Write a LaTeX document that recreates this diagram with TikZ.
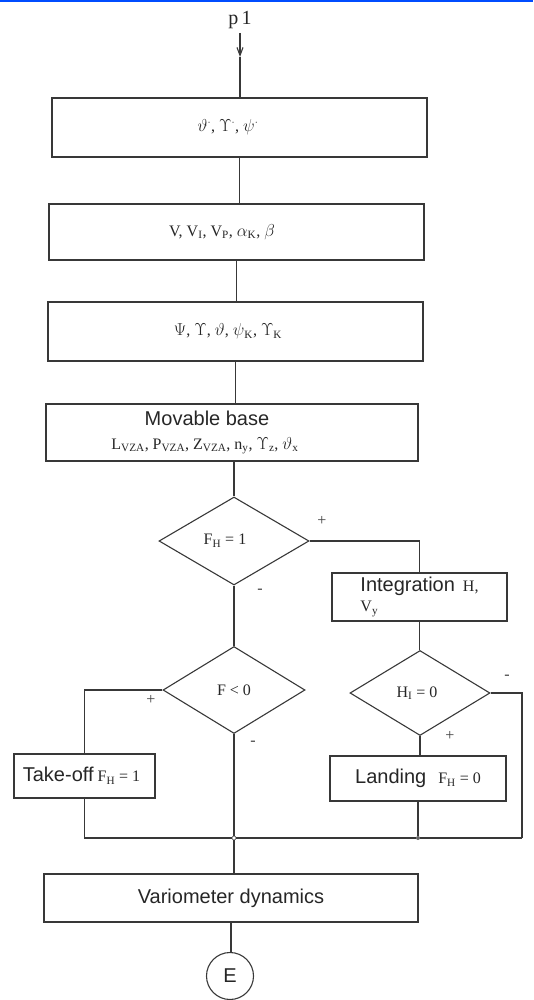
\documentclass[tikz,border=0pt]{standalone}
\usepackage{fontspec}
\setmainfont{Liberation Serif}
\setsansfont{Liberation Sans}
\usetikzlibrary{shapes.geometric,arrows.meta}
\newcommand\sbx[1]{\textsubscript{#1}}
\newcommand\sfbig{\sffamily\fontsize{20}{24}\selectfont}
\begin{document}
\begin{tikzpicture}[x=1pt,y=-1pt,
  ln/.style={draw=black!78,line width=1.1pt},
  box/.style={ln,rectangle,inner sep=0pt,font=\fontsize{16}{19}\selectfont,text=black!85},
  dec/.style={ln,diamond,inner sep=0pt,font=\fontsize{16}{19}\selectfont,text=black!85},
  sgn/.style={font=\fontsize{16}{18}\selectfont,text=black!75,inner sep=0pt},
  conn/.style={draw=black!78,line width=1.1pt}]
\useasboundingbox (0,0) rectangle (533,1000);
\fill[blue!70!cyan] (0,0) rectangle (533,2);
% entry
\node[font=\fontsize{20}{24}\selectfont,text=black!85,inner sep=0pt] (p1) at (240,20) {p\,1};
\coordinate (pa) at (240,33);
\coordinate (pb) at (240,57);
% boxes
\node[box,minimum width=375pt,minimum height=59pt] (b1) at (239.5,127.5)
  {$\vartheta^{\cdot}$, $\Upsilon^{\cdot}$, $\psi^{\cdot}$\hspace*{23pt}};
\node[box,minimum width=375pt,minimum height=56pt] (b2) at (236.5,232)
  {V, V\sbx{I}, V\sbx{P}, $\alpha$\sbx{K}, $\beta$\hspace*{29pt}};
\node[box,minimum width=375pt,minimum height=59pt] (b3) at (235.5,331.5)
  {$\Psi$, $\Upsilon$, $\vartheta$, $\psi$\sbx{K}, $\Upsilon$\sbx{K}\hspace*{15pt}};
\node[box,minimum width=372pt,minimum height=57pt,align=center] (b4) at (232,432.5)
  {{\sfbig Movable base}\hspace*{50pt}\\[5pt]
   L\sbx{VZA}, P\sbx{VZA}, Z\sbx{VZA}, n\sbx{y}, $\Upsilon$\sbx{z}, $\vartheta$\sbx{x}\hspace*{54pt}};
% decisions
\node[dec,minimum width=150pt,minimum height=88pt] (d1) at (234,541) {F\sbx{H} = 1\hspace*{18pt}};
\node[dec,minimum width=142pt,minimum height=87pt] (d2) at (234,690) {F < 0};
\node[dec,minimum width=140pt,minimum height=85pt] (d3) at (420,693) {H\sbx{I} = 0\hspace*{6pt}};
% process boxes
\node[box,minimum width=175pt,minimum height=48pt,align=left] (integ) at (419.5,597)
  {{\sfbig Integration}\ \ H,\\[1pt] V\sbx{y}};
\node[box,minimum width=176pt,minimum height=45pt] (land) at (418,778.5)
  {{\sfbig Landing}\ \ \ F\sbx{H} = 0};
\node[box,minimum width=141pt,minimum height=44pt] (take) at (84.5,776)
  {{\sfbig Take-off} F\sbx{H} = 1\hspace*{6pt}};
\node[box,minimum width=374pt,minimum height=48pt] (vario) at (231,898)
  {\sfbig Variometer dynamics};
\node[ln,circle,minimum size=47pt,inner sep=0pt,font=\sfbig,text=black!85] (E) at (230,976) {E};
% junctions
\coordinate (jl) at (81,838);
\coordinate (jr) at (522,838);
\node[draw=black!70,fill=white,circle,minimum size=4pt,inner sep=0pt,line width=0.6pt] (j1) at (234,838) {};
\node[fill=black!60,circle,minimum size=4pt,inner sep=0pt] (j2) at (418,838) {};
% connectors
\draw[conn,-{Straight Barb[length=8pt,width=6pt]}] (pa) -- (pb);
\draw[conn] (pb) -- (pb |- b1.north);
\draw[conn] (b1.south) -- (b1.south |- b2.north);
\draw[conn] (b2.south) -- (b2.south |- b3.north);
\draw[conn] (b3.south) -- (b3.south |- b4.north);
\draw[conn] (d1.north |- b4.south) -- (d1.north);
\draw[conn] (d1.east) -| (integ.north);
\draw[conn] (integ.south) -- (integ.south |- d3.north);
\draw[conn] (d1.south) -- (d2.north);
\draw[conn] (d2.west) -| (take.north);
\draw[conn] (d2.south) -- (j1.north);
\draw[conn] (d3.south) -- (d3.south |- land.north);
\draw[conn] (d3.east) -| (jr);
\draw[conn] (land.south) -- (j2);
\draw[conn] (take.south) -- (take.south |- jl) -- (j1.west);
\draw[conn] (j1.east) -- (j2) -- (jr);
\draw[conn] (j1.south) -- (j1.south |- vario.north);
\draw[conn] (vario.south) -- (vario.south |- E.north);
% branch signs
\node[sgn] (s1) at (322,521) {+};
\node[sgn] (s2) at (260,591) {-};
\node[sgn] (s3) at (151,700) {+};
\node[sgn] (s4) at (253,743) {-};
\node[sgn] (s5) at (507,677) {-};
\node[sgn] (s6) at (450,736) {+};
\end{tikzpicture}
\end{document}
